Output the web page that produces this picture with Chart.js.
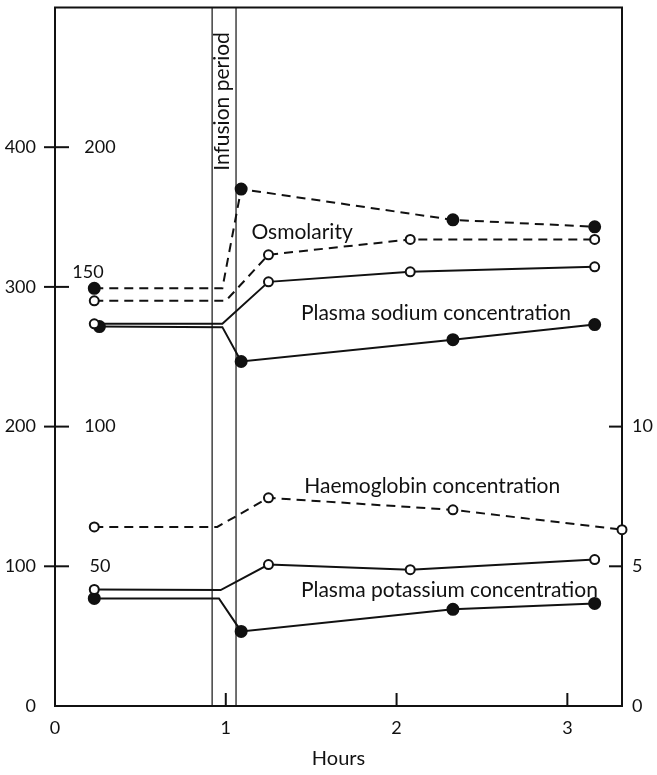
<!DOCTYPE html>
<html>
<head>
<meta charset="utf-8">
<script src="https://cdn.jsdelivr.net/npm/chart.js@4.4.1/dist/chart.umd.min.js"></script>
<style>
  html, body { margin: 0; padding: 0; background: #fff; }
</style>
</head>
<body>
<canvas id="chart" width="657" height="775"></canvas>
<script>
// axis ticks
const hourTicks = [0, 1, 2, 3];
const osmTicks = [0, 100, 200, 300, 400];     // outer left scale
const sodiumTicks = [50, 100, 150, 200];      // inner left scale
const rightTicks = [0, 5, 10];                // right scale
const infusionPeriod = [0.92, 1.06];          // hours

// series: times (hours) and values; index 1 is the held value at end of infusion
const osmFilledT = [0.23, 0.98, 1.09, 2.33, 3.16];
const osmFilled  = [299, 299, 370, 348, 343];
const osmOpenT   = [0.23, 1.00, 1.25, 2.08, 3.16];
const osmOpen    = [290, 290, 323, 334, 334];

const naOpenT    = [0.23, 0.98, 1.25, 2.08, 3.16];
const naOpen     = [136.8, 136.8, 151.8, 155.4, 157.2];
const naFilledT  = [0.26, 0.98, 1.09, 2.33, 3.16];
const naFilled   = [135.8, 135.6, 123.3, 131.1, 136.5];

const hbT        = [0.23, 0.95, 1.25, 2.33, 3.32];
const hb         = [6.41, 6.41, 7.45, 7.02, 6.31];

const kOpenT     = [0.23, 0.97, 1.25, 2.08, 3.16];
const kOpen      = [4.17, 4.15, 5.06, 4.88, 5.24];
const kFilledT   = [0.23, 0.96, 1.09, 2.33, 3.16];
const kFilled    = [3.85, 3.85, 2.67, 3.46, 3.67];

Chart.defaults.font.family = 'Lato';
Chart.defaults.font.size = 18;
Chart.defaults.color = '#111';

const pts = (ts, vs) => ts.map((t, i) => ({ x: t, y: vs[i] }));

function series(label, ts, vs, axis, filled, dashed) {
  return {
    label: label,
    data: pts(ts, vs),
    yAxisID: axis,
    borderColor: '#111',
    borderWidth: 2,
    borderDash: dashed ? [9, 6] : [],
    pointRadius: ctx => ctx.dataIndex === 1 ? 0 : (filled ? 5.5 : 4.5),
    pointBorderWidth: 2,
    pointBackgroundColor: filled ? '#111' : '#fff',
    pointBorderColor: '#111',
    tension: 0,
    clip: false
  };
}

const line = (ctx, x1, y1, x2, y2) => {
  ctx.beginPath(); ctx.moveTo(x1, y1); ctx.lineTo(x2, y2); ctx.stroke();
};

const noPad = s => { s.paddingTop = 0; s.paddingBottom = 0; s.paddingLeft = 0; s.paddingRight = 0; };

const decor = {
  id: 'decor',
  beforeDatasetsDraw(chart) {
    const { ctx, chartArea: a, scales: { x, y, yr } } = chart;
    ctx.save();
    ctx.strokeStyle = '#111';
    ctx.lineWidth = 1.2;
    infusionPeriod.forEach(t => {
      const px = x.getPixelForValue(t);
      line(ctx, px, a.top, px, a.bottom);
    });
    ctx.lineWidth = 2;
    ctx.strokeRect(a.left, a.top, a.right - a.left, a.bottom - a.top);
    osmTicks.filter(v => v > 0).forEach(v => {
      const py = y.getPixelForValue(v);
      line(ctx, a.left - 11, py, a.left + 14, py);
    });
    rightTicks.filter(v => v > 0).forEach(v => {
      const py = yr.getPixelForValue(v);
      line(ctx, a.right - 13, py, a.right, py);
    });
    hourTicks.filter(v => v > 0).forEach(v => {
      const px = x.getPixelForValue(v);
      line(ctx, px, a.bottom, px, a.bottom - 13);
    });
    ctx.restore();
  },
  afterDatasetsDraw(chart) {
    const { ctx, chartArea: a, scales: { x, y, ys } } = chart;
    ctx.save();
    ctx.fillStyle = '#111';
    ctx.font = '18px Lato';
    ctx.textAlign = 'center';
    ctx.textBaseline = 'middle';
    sodiumTicks.forEach(v => {
      let px = a.left + 45, py = ys.getPixelForValue(v);
      if (v === 150) { px -= 12; py -= 15; }
      ctx.fillText(String(v), px, py);
    });
    ctx.font = '21px Lato';
    ctx.textAlign = 'left';
    ctx.fillText('Osmolarity', x.getPixelForValue(1.15), y.getPixelForValue(339));
    ctx.fillText('Plasma sodium concentration', x.getPixelForValue(1.44), y.getPixelForValue(281));
    ctx.fillText('Haemoglobin concentration', x.getPixelForValue(1.46), y.getPixelForValue(157));
    ctx.fillText('Plasma potassium concentration', x.getPixelForValue(1.44), y.getPixelForValue(83));
    ctx.translate(x.getPixelForValue(0.98), a.top + 94);
    ctx.rotate(-Math.PI / 2);
    ctx.textAlign = 'center';
    ctx.fillText('Infusion period', 0, 0);
    ctx.restore();
  }
};

new Chart(document.getElementById('chart'), {
  type: 'line',
  data: {
    datasets: [
      series('Osmolarity (filled)', osmFilledT, osmFilled, 'y', true, true),
      series('Osmolarity (open)', osmOpenT, osmOpen, 'y', false, true),
      series('Plasma sodium (open)', naOpenT, naOpen, 'ys', false, false),
      series('Plasma sodium (filled)', naFilledT, naFilled, 'ys', true, false),
      series('Haemoglobin', hbT, hb, 'yr', false, true),
      series('Plasma potassium (open)', kOpenT, kOpen, 'yr', false, false),
      series('Plasma potassium (filled)', kFilledT, kFilled, 'yr', true, false)
    ]
  },
  options: {
    responsive: false,
    animation: false,
    layout: { padding: { top: 5, left: 0, right: 0, bottom: 0 } },
    plugins: { legend: { display: false }, tooltip: { enabled: false } },
    scales: {
      x: {
        type: 'linear',
        min: 0,
        max: 3.32,
        afterBuildTicks: s => { s.ticks = hourTicks.map(v => ({ value: v })); },
        afterFit: s => { s.height = 69; noPad(s); },
        grid: { display: false, drawTicks: false },
        border: { display: false },
        ticks: { padding: 11, callback: v => String(v) },
        title: { display: true, text: 'Hours', font: { size: 20 }, padding: { top: 4, bottom: 4 } }
      },
      y: {
        position: 'left',
        min: 0,
        max: 500,
        afterBuildTicks: s => { s.ticks = osmTicks.map(v => ({ value: v })); },
        afterFit: s => { s.width = 55; noPad(s); },
        grid: { display: false, drawTicks: false },
        border: { display: false },
        ticks: { padding: 19 }
      },
      ys: {
        position: 'left',
        min: 0,
        max: 250,
        display: false
      },
      yr: {
        position: 'right',
        min: 0,
        max: 25,
        afterBuildTicks: s => { s.ticks = rightTicks.map(v => ({ value: v })); },
        afterFit: s => { s.width = 35; noPad(s); },
        grid: { display: false, drawTicks: false },
        border: { display: false },
        ticks: { padding: 10 }
      }
    }
  },
  plugins: [decor]
});
</script>
</body>
</html>
